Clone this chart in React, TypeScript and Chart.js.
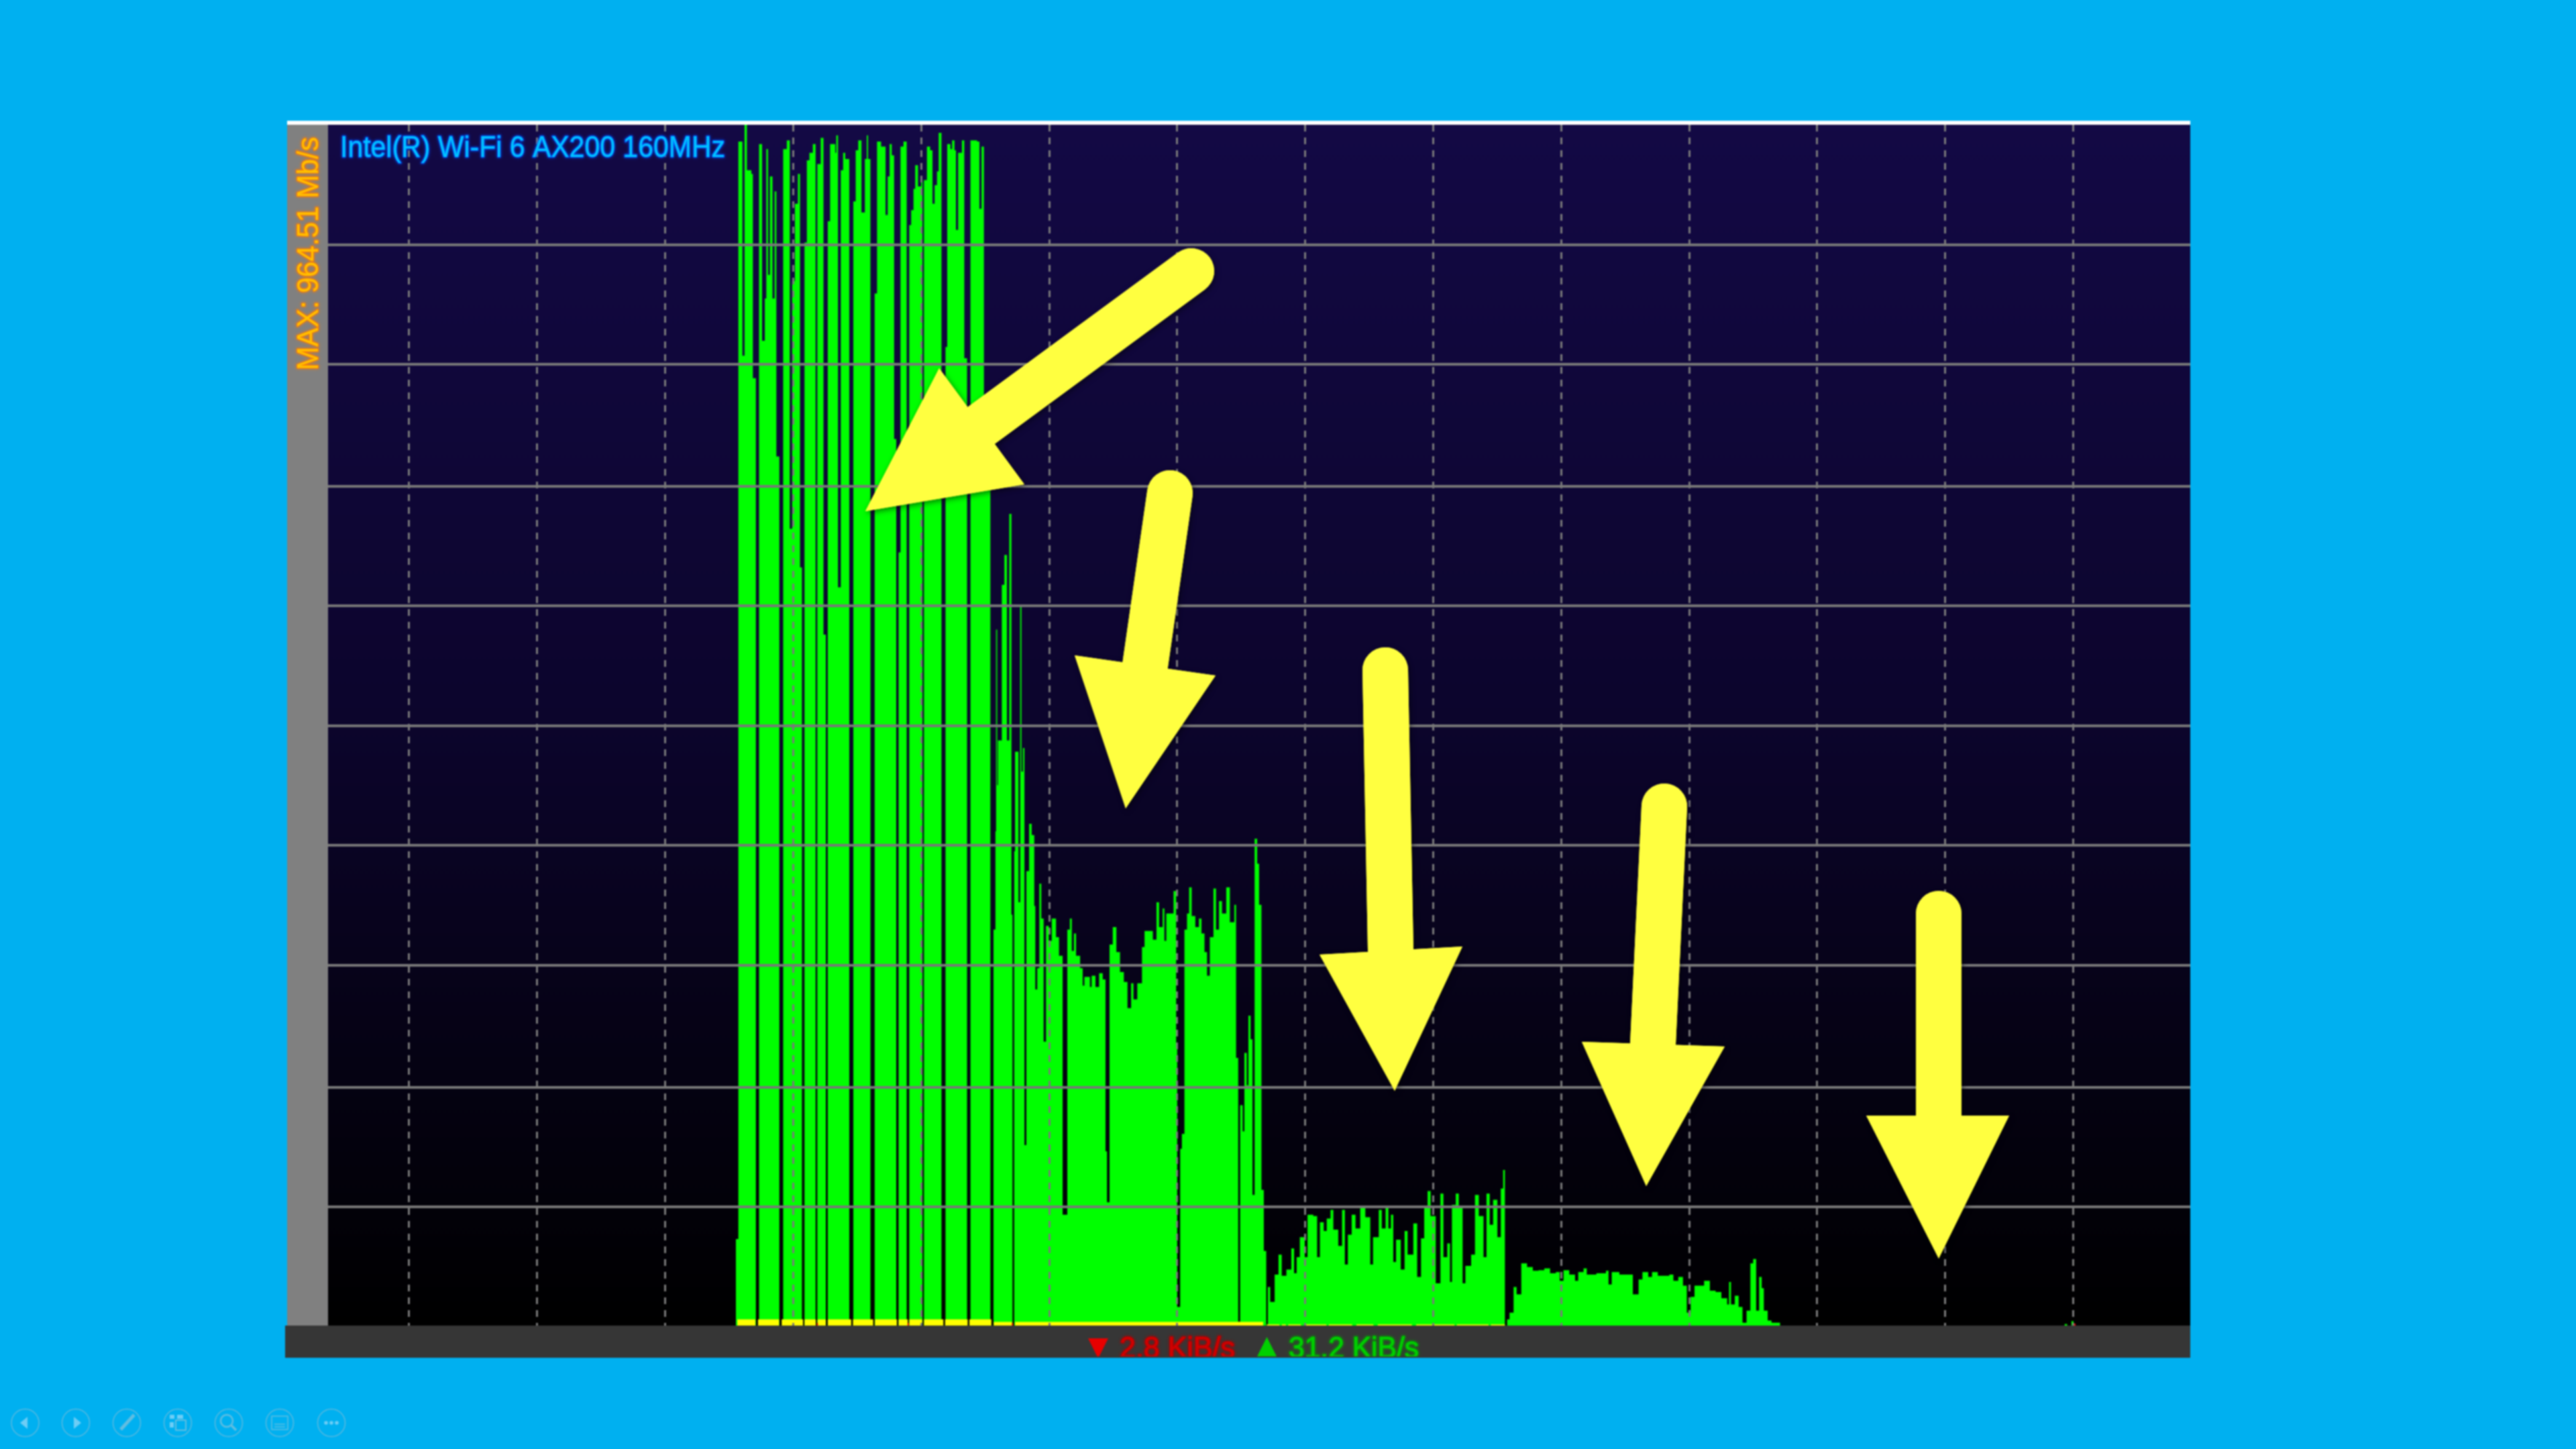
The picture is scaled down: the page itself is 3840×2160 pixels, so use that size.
import React, { useEffect, useRef } from "react";
import { Chart, registerables } from "chart.js";

Chart.register(...registerables);

const TITLE = "Intel(R) Wi-Fi 6 AX200 160MHz";
const MAX_LABEL = "MAX: 964.51 Mb/s";
const DOWN_LABEL = "2.8 KiB/s";
const UP_LABEL = "31.2 KiB/s";
const AXIS_MAX = 964.51;
const AXIS_MIN_SECONDS = -38.05;
const AXIS_MAX_SECONDS = 834.9;
const gridSeconds = [0, 60, 120, 180, 240, 300, 360, 420, 480, 540, 600, 660, 720, 780];
const gridMbps = [95.4, 191.3, 289.3, 385.8, 481.7, 578, 674, 772, 868];

// first phase: full-speed bursts (value holds from this second to the next)
const burstSeconds = [
  153.1, 154.3, 156.2, 157.2, 158.3, 160.4, 161.1, 162.5,
  164, 165.4, 166.7, 167.4, 168.2, 169.1, 170.3, 171.3, 172.1, 173.5,
  175.3, 177, 178.4, 179.5, 180.8, 182.2, 183.2, 184.1,
  185.3, 186.4, 187.6, 189.2, 190.5,
  191.3, 192.9, 194.2, 195.3,
  196.2, 197.3, 199.7, 200.2, 201, 202.3, 203.4, 204.4, 206.3,
  208.2, 209.3, 210.5, 212, 213.6, 214.5, 215.1, 216.2,
  218.2, 219.3, 221.2, 223.3, 224.3, 225.2, 226.2, 227.3, 228.3,
  229.4, 230.3, 231.7, 233.2,
  234.4, 235.3, 236.4, 237.2, 238.5, 240, 240.6,
  241.3, 242.7, 244.2, 245.3, 246.3, 247.4, 248.2, 249.5,
  251.4, 252.2, 253.7, 254.5, 255.6, 256.3, 257.3, 259.1, 260.2, 261.5,
  263.1, 266.2, 267.3, 268.3, 269.4, 272.5,
];
const burstMbps = [
  69.5, 951, 779, 964.5, 928, 925, 761, 0,
  949, 791, 825, 945, 844, 923, 825, 911, 698, 0,
  945, 952, 640, 839, 901, 925, 609, 0,
  870, 936, 942, 949, 0,
  933, 954, 555, 0,
  887, 949, 942, 956, 593, 928, 942, 937, 0,
  903, 944, 952, 894, 937, 956, 937, 0,
  829, 951, 947, 892, 923, 949, 940, 712, 0,
  621, 947, 951, 0,
  884, 896, 913, 932, 915, 920, 0,
  920, 947, 944, 901, 916, 927, 958, 0,
  786, 949, 945, 952, 944, 880, 942, 952, 777, 0,
  952, 951, 897, 947, 681, 0,
];

// second phase: falling back to roughly 300 Mb/s
const midSeconds = [
  273.9, 274.8, 275.1, 275.6, 276, 277.8, 279, 280.2, 281.3, 282.3, 282.8,
  283.6, 284, 285.6, 286.4, 287, 287.7, 288.4,
  289.3, 290.6, 291.8, 293, 293.5, 294.4, 295.4, 296.3, 297.4, 298.5, 299.8, 301.2, 303.2, 304.6, 306.3,
  308.5, 309.7, 310.6, 311.6, 312.6, 314.5, 315.7, 316.5, 319.1, 319.9, 321.7, 323.4, 325.1, 326.4, 327.1,
  328.3, 329.8, 331.5, 333.2, 335, 336.7, 338.4, 339.5, 341.3, 343.5, 344.7, 348.6, 350.3, 351.5, 353.2, 354, 354.9, 358.3, 359.5, 360, 361.4, 362.2,
  363.4, 364.6, 365.6, 366.8, 368.5, 370.2, 371.4, 372.8, 374, 375.3, 377, 378.2, 379.6, 381, 383, 384.7, 386.8, 387.6, 388.6,
  389.5, 390.7, 391.5, 392.6, 393.4, 394.4, 395.3, 396.3, 397.5, 398.4, 399.5, 400.6, 401.8,
];
const midMbps = [
  318, 397, 559, 434, 470, 595, 619, 470, 652, 330, 0,
  381, 461, 340, 579, 445, 464, 145,
  365, 403, 394, 337, 270, 287, 355, 327, 228, 321, 309, 327, 312, 297, 89,
  318, 327, 301, 315, 297, 287, 273, 280, 272, 281, 272, 283, 278, 140, 99,
  306, 320, 300, 284, 276, 255, 275, 262, 275, 304, 317, 310, 340, 320, 335, 309, 331, 349, 222, 15, 142, 154,
  318, 331, 352, 329, 320, 327, 315, 300, 281, 312, 351, 318, 341, 331, 352, 324, 338, 215, 3,
  177, 156, 219, 193, 249, 230, 105, 391, 371, 338, 109, 60, 0,
];

// third phase: about 70 Mb/s
const lowSeconds = [
  402.5, 403.6, 405.7, 407.5, 409, 411.2, 413.5, 414.8, 416, 417.5, 419.8, 421.1, 423.8, 425.6, 426.9, 428.7, 430.1, 431.9, 433.2, 435.5,
  437.3, 438.6, 440, 441.8, 443.6, 445.8, 448.2, 450.5, 451.8, 454.5, 455.9, 457.7, 459, 460.2, 461.3, 462.6, 464.8, 466.6, 468, 470.7,
  472.5, 474.3, 475.8, 477.4, 478.8, 481.2, 483.4, 484.8, 486.6, 487.9, 488.8, 490.6, 492, 493.8, 495.1, 497.8, 499.6, 501.4, 503.6, 505,
  506.5, 508.1, 510.1, 511.7, 512.8, 513.7,
];
const lowMbps = [
  31, 19, 41, 57, 40, 45, 62, 42, 55, 71, 55, 89, 88, 55, 83, 76, 86, 93, 77, 64,
  93, 49, 73, 89, 78, 95, 87, 49, 71, 93, 78, 95, 78, 89, 51, 69, 45, 76, 57, 82,
  39, 70, 95, 108, 88, 34, 106, 55, 66, 35, 97, 106, 95, 34, 48, 57, 105, 88, 55, 106,
  81, 101, 71, 110, 125, 45,
];

// fourth phase: about 40 Mb/s, then idle
const tailSeconds = [
  514.6, 515.8, 517.7, 519.1, 521.3, 524, 526.7, 529.4, 532.1, 534.8, 537.5, 539.3, 541.1, 543.8, 546.5, 548, 550.5, 552, 556.5, 561,
  562.2, 563.7, 567.3, 570.9, 573.6, 576.3, 578.1, 580.8, 582.6, 585.3, 590.7, 592.6, 594.9, 597.1, 598.9, 600.7, 602.5, 607, 609.7, 612.4,
  615.1, 617.8, 618.7, 619.6, 621.4, 623.2, 625, 626.9, 628.7, 630, 631.4, 632.8, 634, 635, 636.8, 638.6, 642.6,
  776, 777.2, 779.2, 780.2,
];
const tailMbps = [
  5, 10.4, 31, 25, 50, 47, 44, 44.5, 46, 42, 43, 36, 44.5, 41, 36, 43, 46, 41, 42, 44,
  33, 43, 41, 41, 25, 37, 43, 39, 43, 40, 41, 36, 39, 32, 10.4, 23, 32, 36, 28, 27,
  22, 17, 35, 17, 24, 15, 2.3, 12, 50, 53.5, 12, 39, 30, 12, 4, 2.3, 0,
  1.2, 0, 3.5, 0,
];

// traffic in the other direction, shown yellow where it overlaps
const uploadSeconds = [
  153.8, 162.3, 163.5, 173.4, 174.6, 184.6, 185.3, 190.6, 191.4, 195.3, 196.2, 207.2, 208, 217.5, 218.3, 228.6, 229.4, 233.7, 234.4, 240.5, 241.3, 250.4, 251.2, 261.8, 262.6, 272.9,
  274, 282.6, 284, 400.3, 402, 408, 409, 411, 412, 418, 420, 430, 431, 442, 444, 452, 454, 470, 472, 490, 491, 506, 507, 513.7,
];
const uploadMbps = [
  5, 0, 5, 0, 5, 0, 5, 0, 5, 0, 5, 0, 5, 0, 5, 0, 5, 0, 5, 0, 5, 0, 5, 0, 5, 0,
  3, 0, 3, 0, 1, 0, 1, 0, 1, 0, 1, 0, 1, 0, 1, 0, 1, 0, 1, 0, 1, 0, 1, 0,
];
const redSeconds = [191, 191.6, 233.6, 234.2, 282.5, 283.1, 780.2, 781.2];
const redMbps = [2, 0, 2, 0, 2, 0, 1.5, 0];

const toPoints = (xs: number[], ys: number[]) => xs.map((x, i) => ({ x, y: ys[i] }));

const arrow = (ctx: CanvasRenderingContext2D, tail: number[], mid: number[], tip: number[], a: number[], b: number[], w: number) => {
  const paint = () => {
    ctx.strokeStyle = "#ffff40";
    ctx.fillStyle = "#ffff40";
    ctx.lineCap = "round";
    ctx.lineWidth = w;
    ctx.beginPath();
    ctx.moveTo(tail[0], tail[1]);
    ctx.lineTo(mid[0], mid[1]);
    ctx.stroke();
    ctx.beginPath();
    ctx.moveTo(tip[0], tip[1]);
    ctx.lineTo(a[0], a[1]);
    ctx.lineTo(b[0], b[1]);
    ctx.closePath();
    ctx.fill();
  };
  ctx.save();
  ctx.shadowColor = "rgba(0,0,0,0.5)";
  ctx.shadowBlur = 8;
  ctx.shadowOffsetX = 2;
  ctx.shadowOffsetY = 3;
  paint();
  ctx.shadowColor = "transparent";
  ctx.shadowBlur = 0;
  ctx.shadowOffsetX = 0;
  ctx.shadowOffsetY = 0;
  paint();
  ctx.restore();
};

const toolbar = (ctx: CanvasRenderingContext2D) => {
  const xs = [37.5, 113, 189, 265, 341, 417, 494];
  const y = 2121;
  ctx.save();
  ctx.strokeStyle = "#5cb8de";
  ctx.lineWidth = 1.5;
  xs.forEach((x) => {
    ctx.beginPath();
    ctx.arc(x, y, 20.5, 0, Math.PI * 2);
    ctx.stroke();
  });
  ctx.fillStyle = "#6ecdf5";
  ctx.strokeStyle = "#62bde0";
  ctx.beginPath(); ctx.moveTo(30, y); ctx.lineTo(41, y - 9); ctx.lineTo(41, y + 9); ctx.closePath(); ctx.fill();
  ctx.beginPath(); ctx.moveTo(121, y); ctx.lineTo(110, y - 9); ctx.lineTo(110, y + 9); ctx.closePath(); ctx.fill();
  ctx.lineWidth = 5;
  ctx.beginPath(); ctx.moveTo(180, y + 10); ctx.lineTo(200, y - 12); ctx.stroke();
  ctx.lineWidth = 2;
  ctx.fillRect(253, y - 12, 7, 6);
  ctx.fillRect(264, y - 12, 9, 6);
  ctx.fillRect(253, y - 1, 6, 8);
  ctx.strokeRect(262, y - 4, 15, 15);
  ctx.lineWidth = 2.5;
  ctx.beginPath(); ctx.arc(338, y - 3, 9, 0, Math.PI * 2); ctx.stroke();
  ctx.lineWidth = 3.5;
  ctx.beginPath(); ctx.moveTo(345, y + 4); ctx.lineTo(352, y + 11); ctx.stroke();
  ctx.lineWidth = 1.5;
  ctx.strokeRect(405, y - 10, 24, 20);
  ctx.beginPath(); ctx.moveTo(409, y + 2); ctx.lineTo(425, y + 2); ctx.moveTo(409, y + 6); ctx.lineTo(425, y + 6); ctx.stroke();
  [486, 494, 502].forEach((x) => { ctx.beginPath(); ctx.arc(x, y, 2.8, 0, Math.PI * 2); ctx.fill(); });
  ctx.restore();
};

const boldText = (ctx: CanvasRenderingContext2D, text: string, x: number, y: number, maxW: number, fill: string, edge: string) => {
  ctx.shadowColor = edge;
  ctx.shadowBlur = 4;
  ctx.lineWidth = 2;
  ctx.strokeStyle = edge;
  ctx.lineJoin = "round";
  ctx.strokeText(text, x, y, maxW);
  ctx.shadowBlur = 0;
  ctx.fillStyle = fill;
  ctx.fillText(text, x, y, maxW);
};

const panelPlugin = {
  id: "panel",
  beforeDraw(chart: any) {
    const { ctx, chartArea: a } = chart;
    ctx.save();
    ctx.fillStyle = "#00b0f0";
    ctx.fillRect(0, 0, 3840, 2160);
    const g = ctx.createLinearGradient(0, a.top, 0, a.bottom);
    g.addColorStop(0, "#130945");
    g.addColorStop(0.5, "#0c052c");
    g.addColorStop(1, "#000000");
    ctx.fillStyle = g;
    ctx.fillRect(a.left, a.top, a.right - a.left, a.bottom - a.top);
    ctx.restore();
  },
  afterDraw(chart: any) {
    const { ctx, chartArea: a } = chart;
    ctx.save();
    ctx.fillStyle = "#ffffff";
    ctx.fillRect(428, 180, a.right - 428, a.top - 180);
    ctx.fillStyle = "#808080";
    ctx.fillRect(428, a.top, a.left - 428, a.bottom - a.top);
    ctx.fillStyle = "#363636";
    ctx.fillRect(425, a.bottom, a.right - 425, 2024 - a.bottom);

    ctx.font = "44px 'Liberation Sans'";
    ctx.textBaseline = "alphabetic";
    ctx.textAlign = "left";
    boldText(ctx, TITLE, 507, 234, 574, "#00c4ff", "#0050ff");

    ctx.save();
    ctx.translate(474, 552);
    ctx.rotate(-Math.PI / 2);
    boldText(ctx, MAX_LABEL, 0, 0, 348, "#ffc000", "#ff7800");
    ctx.restore();

    ctx.save();
    ctx.beginPath();
    ctx.rect(425, a.bottom, a.right - 425, 2022 - a.bottom);
    ctx.clip();
    boldText(ctx, DOWN_LABEL, 1669, 2024, 172, "#d00000", "#b00000");
    ctx.fillStyle = "#e80000";
    ctx.beginPath(); ctx.moveTo(1622, 1995); ctx.lineTo(1652, 1995); ctx.lineTo(1637, 2025); ctx.closePath(); ctx.fill();
    boldText(ctx, UP_LABEL, 1921, 2024, 194, "#00d000", "#00a800");
    ctx.fillStyle = "#00d000";
    ctx.beginPath(); ctx.moveTo(1873, 2024); ctx.lineTo(1904, 2024); ctx.lineTo(1888.5, 1993); ctx.closePath(); ctx.fill();
    ctx.restore();

    arrow(ctx, [1776, 404], [1463, 634], [1290, 762], [1400, 549], [1527, 722], 68);
    arrow(ctx, [1744, 735], [1707, 992], [1678, 1205], [1602, 977], [1812, 1007], 68);
    arrow(ctx, [2065, 999], [2073, 1416], [2079, 1626], [1967, 1423], [2180, 1411], 68);
    arrow(ctx, [2481, 1202], [2464, 1556], [2454, 1768], [2358, 1553], [2571, 1560], 68);
    arrow(ctx, [2890, 1362], [2890, 1663], [2890, 1876], [2782, 1663], [2995, 1663], 68);

    toolbar(ctx);
    ctx.restore();
  },
};

const area = (label: string, points: any[], color: string) => ({
  label,
  data: points,
  stepped: true,
  fill: "origin",
  backgroundColor: color,
  borderWidth: 0,
  pointRadius: 0,
  tension: 0,
});

export default function App() {
  const ref = useRef<HTMLCanvasElement>(null);
  useEffect(() => {
    const chart = new Chart(ref.current!, {
      type: "line",
      data: {
        datasets: [
          area("Red", toPoints(redSeconds, redMbps), "#ff0000"),
          area("Overlap", toPoints(uploadSeconds, uploadMbps), "#ffff00"),
          area("Burst", toPoints(burstSeconds, burstMbps), "#00ff00"),
          area("Mid", toPoints(midSeconds, midMbps), "#00ff00"),
          area("Low", toPoints(lowSeconds, lowMbps), "#00ff00"),
          area("Tail", toPoints(tailSeconds, tailMbps), "#00ff00"),
        ],
      },
      options: {
        responsive: false,
        animation: false,
        layout: { padding: { left: 489, right: 575, top: 186, bottom: 184 } },
        plugins: { legend: { display: false }, tooltip: { enabled: false } },
        scales: {
          x: {
            type: "linear",
            min: AXIS_MIN_SECONDS,
            max: AXIS_MAX_SECONDS,
            afterBuildTicks: (s: any) => { s.ticks = gridSeconds.map((value) => ({ value })); },
            ticks: { display: false },
            grid: { z: 1, color: "#7a7a7a", lineWidth: 3, drawTicks: false },
            border: { display: false, dash: [10, 9] },
          },
          y: {
            min: 0,
            max: AXIS_MAX,
            afterBuildTicks: (s: any) => { s.ticks = gridMbps.map((value) => ({ value })); },
            ticks: { display: false },
            grid: { z: 1, color: "#787878", lineWidth: 4, drawTicks: false },
            border: { display: false },
          },
        },
      },
      plugins: [panelPlugin],
    } as any);
    return () => chart.destroy();
  }, []);
  return (
    <div style={{ position: "fixed", left: 0, top: 0, width: 3840, height: 2160, background: "#00b0f0", overflow: "hidden" }}>
      <canvas ref={ref} width={3840} height={2160} style={{ display: "block", filter: "blur(0.8px)" }} />
    </div>
  );
}
